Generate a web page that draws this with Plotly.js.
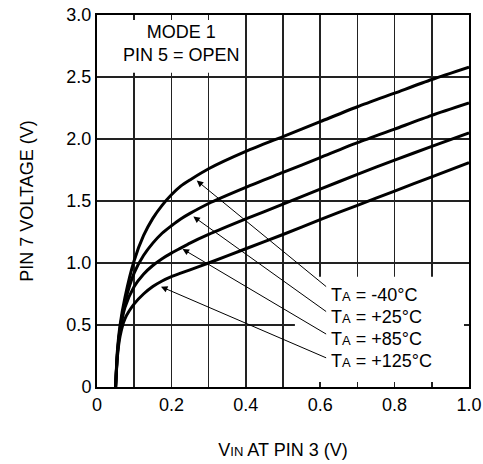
<!DOCTYPE html>
<html>
<head>
<meta charset="utf-8">
<script src="https://cdn.plot.ly/plotly-3.0.1.min.js"></script>
<style>html,body{margin:0;padding:0;background:#fff;}#chart{width:483px;height:464px;}</style>
</head>
<body>
<div id="chart"></div>
<script>
// Data
const vin = [0.05, 0.055, 0.062, 0.075, 0.1, 0.125, 0.15, 0.175, 0.2, 0.225, 0.25, 0.3, 0.4, 0.5, 0.6, 0.7, 0.8, 0.9, 1.0];
const vM40 = [0, 0.3, 0.5, 0.72, 1.02, 1.22, 1.36, 1.465, 1.55, 1.62, 1.67, 1.76, 1.90, 2.02, 2.14, 2.26, 2.37, 2.48, 2.58];
const vP25 = [0, 0.28, 0.47, 0.68, 0.92, 1.06, 1.16, 1.24, 1.30, 1.355, 1.40, 1.48, 1.61, 1.73, 1.85, 1.97, 2.08, 2.19, 2.29];
const vP85 = [0, 0.27, 0.45, 0.64, 0.81, 0.91, 0.98, 1.035, 1.08, 1.12, 1.16, 1.23, 1.355, 1.475, 1.595, 1.715, 1.83, 1.94, 2.05];
const vP125 = [0, 0.25, 0.41, 0.55, 0.67, 0.75, 0.81, 0.855, 0.89, 0.918, 0.945, 1.0, 1.115, 1.23, 1.35, 1.465, 1.58, 1.695, 1.81];
const seriesNames = ['TA = -40°C', 'TA = +25°C', 'TA = +85°C', 'TA = +125°C'];
const xTickVals = [0, 0.2, 0.4, 0.6, 0.8, 1.0];
const xTickText = ['0', '0.2', '0.4', '0.6', '0.8', '1.0'];
const yTickVals = [0, 0.5, 1.0, 1.5, 2.0, 2.5, 3.0];
const yTickText = ['0', '0.5', '1.0', '1.5', '2.0', '2.5', '3.0'];

const FONT = 'Liberation Sans, Arial, Helvetica, sans-serif';
const sub = s => '<span style="font-size:13px">' + s + '</span>';

const series = [vM40, vP25, vP85, vP125];
const traces = series.map((ys, i) => ({
  x: vin, y: ys, type: 'scatter', mode: 'lines', name: seriesNames[i],
  line: {color: '#000', width: 3, shape: 'spline', smoothing: 0.7},
  hoverinfo: 'skip', showlegend: false
}));

const labelTexts = ['T' + sub('A') + ' = -40°C', 'T' + sub('A') + ' = +25°C', 'T' + sub('A') + ' = +85°C', 'T' + sub('A') + ' = +125°C'];
const labelY = [0.74, 0.567, 0.39, 0.21];
const tips = [[0.268, 1.665], [0.259, 1.375], [0.230, 1.113], [0.172, 0.809]];
const tails = [[0.620, 0.80], [0.620, 0.60], [0.620, 0.42], [0.620, 0.23]];

const annotations = [];
labelTexts.forEach((t, i) => {
  annotations.push({x: 0.624, y: labelY[i], xref: 'x', yref: 'y', text: t, showarrow: false,
    xanchor: 'left', yanchor: 'middle', font: {family: FONT, size: 18, color: '#000'}});
  annotations.push({x: tips[i][0], y: tips[i][1], ax: tails[i][0], ay: tails[i][1], axref: 'x', ayref: 'y',
    xref: 'x', yref: 'y', text: '', showarrow: true, arrowhead: 2, arrowsize: 1.3, arrowwidth: 1, arrowcolor: '#000', standoff: 0});
});
annotations.push({x: 0.228, y: 2.77, xref: 'x', yref: 'y', text: 'MODE 1<br>PIN 5 = OPEN', showarrow: false,
  xanchor: 'center', yanchor: 'middle', font: {family: FONT, size: 18, color: '#000'}});

const GRID = '#222';
const axisCommon = {
  showline: true, linecolor: '#000', linewidth: 2, mirror: 'allticks',
  ticks: 'inside', ticklen: 5, tickwidth: 1.5, tickcolor: GRID,
  showgrid: true, gridcolor: GRID, gridwidth: 1.5, zeroline: false,
  tickfont: {family: FONT, size: 18, color: '#000'}, fixedrange: true
};

const layout = {
  width: 483, height: 464,
  margin: {l: 97, r: 14, t: 15, b: 77},
  paper_bgcolor: '#fff', plot_bgcolor: '#fff',
  font: {family: FONT, size: 18, color: '#000'},
  xaxis: Object.assign({}, axisCommon, {
    range: [0, 1.0], tickmode: 'array', tickvals: xTickVals, ticktext: xTickText,
    minor: {dtick: 0.1, tick0: 0, showgrid: true, gridcolor: GRID, gridwidth: 1.5, ticks: 'inside', ticklen: 5, tickcolor: GRID, tickwidth: 1.5},
    title: {text: 'V' + sub('IN') + ' AT PIN 3 (V)', font: {family: FONT, size: 18, color: '#000'}, standoff: 30}
  }),
  yaxis: Object.assign({}, axisCommon, {
    range: [0, 3.0], tickmode: 'array', tickvals: yTickVals, ticktext: yTickText,
    title: {text: 'PIN 7 VOLTAGE (V)', font: {family: FONT, size: 18, color: '#000'}, standoff: 28}
  }),
  shapes: [
    {type: 'rect', xref: 'x', yref: 'y', x0: 0, x1: 0.395, y0: 2.535, y1: 3.0, fillcolor: '#fff', line: {width: 0}, layer: 'between'},
    {type: 'rect', xref: 'x', yref: 'y', x0: 0.532, x1: 1.0, y0: 0, y1: 0.89, fillcolor: '#fff', line: {width: 0}, layer: 'between'}
  ],
  annotations: annotations,
  showlegend: false
};

Plotly.newPlot('chart', traces, layout, {staticPlot: true, displayModeBar: false});
</script>
</body>
</html>
